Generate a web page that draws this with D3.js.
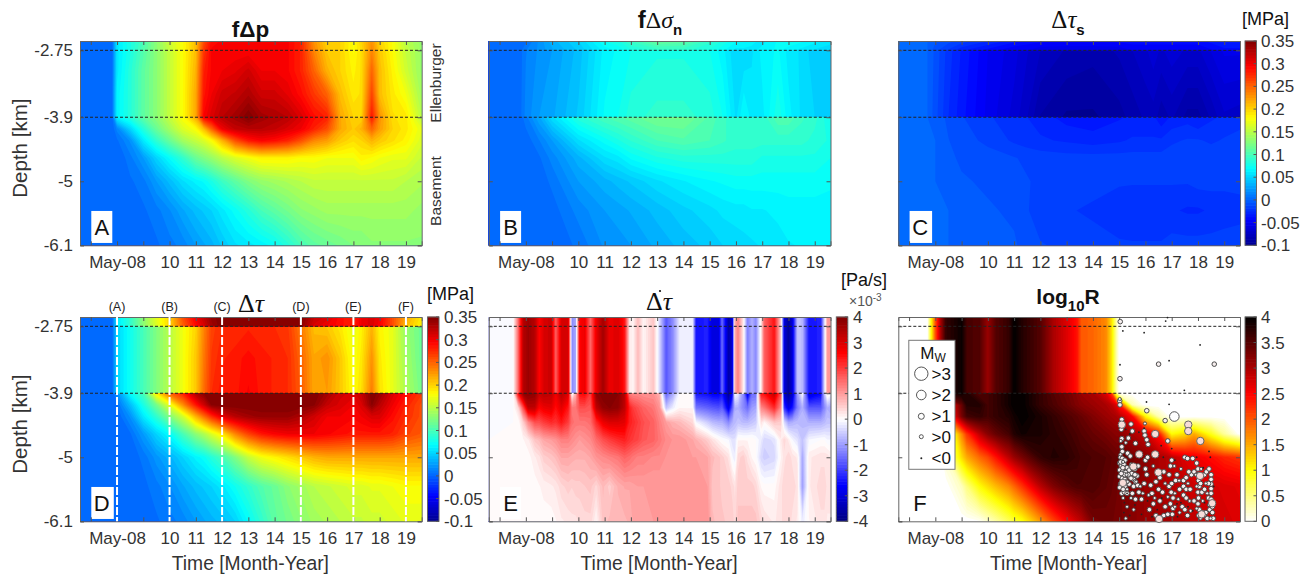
<!DOCTYPE html>
<html>
<head>
<meta charset="utf-8">
<script src="https://d3js.org/d3.v7.min.js"></script>
<title>Stress and seismicity rate panels</title>
<style>
  body { margin: 0; background: #fff; }
  svg { display: block; }
  text { font-family: "Liberation Sans", Arial, sans-serif; fill: #333; }
  .math { font-family: "Liberation Serif", serif; font-style: italic; }
</style>
</head>
<body>
<svg width="1309" height="576"></svg>
<script>
// tick labels, years written as two digits
const yearTicks = [7, 8, 9, 10, 11, 12, 13, 14, 15, 16, 17, 18, 19]
const yearLabels = ["", "May-08", "", "10", "11", "12", "13", "14", "15", "16", "17", "18", "19"]
const depthTicks = [-2.75, -3.9, -5, -6.1]
const layerDepths = [-2.75, -3.9]
const stressTicks = [-0.1, -0.05, 0, 0.05, 0.1, 0.15, 0.2, 0.25, 0.3, 0.35]
const rateTicks = [-4, -3, -2, -1, 0, 1, 2, 3, 4]
const logRTicks = [0, 0.5, 1, 1.5, 2, 2.5, 3, 3.5, 4]

// grid positions, a repeated depth is a jump between layers
const timesMain = [6.59, 7.8, 8, 8.5, 9, 9.5, 10, 10.5, 11, 11.3, 11.6, 12, 12.5, 13, 13.5, 14, 14.5, 15, 15.5, 16, 16.5, 17, 17.3, 17.7, 18, 18.5, 19, 19.6]
const timesSmooth = [6.59, 7.7, 8, 8.5, 9, 10, 11, 11.5, 12, 13, 14, 15, 15.5, 16, 16.3, 16.6, 17, 17.6, 18, 18.5, 19, 19.6]
const timesRate = [6.59, 7.52, 7.71, 7.9, 8.09, 8.34, 8.51, 8.68, 8.97, 9.14, 9.35, 9.61, 9.75, 9.9, 10.05, 10.24, 10.46, 10.68, 10.94, 11.19, 11.51, 11.76, 11.95, 12.08, 12.27, 12.48, 12.86, 13.09, 13.34, 13.59, 13.85, 14.35, 14.48, 14.92, 15.11, 15.34, 15.47, 15.72, 15.87, 15.96, 16.08, 16.28, 16.44, 16.61, 16.76, 16.96, 17.08, 17.46, 17.71, 17.84, 18, 18.15, 18.34, 18.53, 18.78, 19.23, 19.37, 19.48, 19.6]
const timesLogR = [6.59, 7.7, 7.85, 8, 8.2, 8.4, 9, 9.2, 9.7, 10, 10.3, 10.8, 11, 11.3, 12, 12.5, 13, 13.4, 13.55, 14, 14.5, 14.7, 14.9, 15, 15.5, 16, 16.5, 17, 17.5, 17.85, 18.5, 19, 19.6]
const depthsA = [-2.59, -2.75, -3.1, -3.5, -3.9, -4.1, -4.3, -4.6, -5, -5.5, -6.1]
const depthsSmooth = [-2.59, -2.75, -2.75, -3.9, -3.9, -4.3, -4.6, -5, -5.5, -6.1]
const depthsD = [-2.59, -2.75, -2.75, -3.3, -3.9, -3.9, -4.1, -4.3, -4.6, -5, -5.5, -6.1]
const depthsRate = [-2.59, -3.9, -3.9, -4.15, -4.4, -4.7, -5, -5.5, -6.1]
const depthsLogR = [-2.59, -3.9, -3.9, -4.1, -4.3, -4.6, -5, -5.5, -6.1]

const valuesA = [
  [0,0,.06,.08,.10,.13,.16,.18,.21,.26,.29,.295,.295,.295,.295,.295,.295,.28,.23,.20,.20,.18,.20,.23,.20,.18,.15,.135],
  [0,0,.06,.08,.105,.13,.155,.18,.21,.27,.295,.295,.295,.295,.295,.295,.295,.28,.235,.205,.20,.18,.195,.235,.205,.18,.155,.135],
  [0,0,.06,.085,.11,.13,.155,.18,.215,.28,.295,.30,.305,.315,.30,.30,.295,.28,.25,.215,.20,.185,.195,.25,.21,.185,.16,.135],
  [0,0,.065,.085,.11,.13,.155,.18,.22,.285,.30,.315,.32,.33,.315,.315,.305,.29,.27,.25,.21,.19,.195,.265,.21,.19,.175,.14],
  [0,0,.065,.085,.11,.13,.155,.18,.22,.295,.31,.325,.335,.35,.335,.33,.325,.31,.29,.28,.22,.20,.20,.285,.23,.195,.19,.15],
  [0,0,.015,.05,.085,.115,.14,.165,.18,.21,.25,.30,.32,.325,.325,.32,.31,.30,.28,.26,.22,.205,.215,.25,.225,.20,.19,.17],
  [0,0,.005,.02,.06,.09,.115,.14,.155,.165,.18,.215,.26,.285,.295,.29,.28,.26,.235,.225,.205,.195,.20,.215,.205,.195,.185,.165],
  [0,0,0,.01,.025,.05,.07,.09,.115,.125,.135,.15,.165,.175,.185,.185,.185,.18,.18,.175,.175,.175,.185,.18,.175,.17,.17,.155],
  [0,0,0,.005,.01,.025,.04,.055,.065,.07,.08,.095,.11,.125,.135,.14,.145,.15,.155,.155,.155,.155,.155,.155,.155,.155,.15,.145],
  [0,0,0,0,.005,.01,.018,.03,.04,.045,.05,.06,.072,.085,.10,.11,.12,.13,.135,.14,.14,.14,.14,.14,.14,.14,.14,.135],
  [0,0,0,0,0,.005,.01,.015,.025,.03,.035,.045,.055,.06,.065,.072,.085,.10,.11,.115,.12,.125,.125,.13,.13,.13,.13,.13]
]

const valuesB = [
  [0,0,.005,.02,.035,.05,.075,.08,.095,.115,.11,.09,.08,.07,.07,.065,.06,.07,.075,.07,.065,.06],
  [0,0,.012,.02,.03,.045,.065,.07,.08,.09,.09,.08,.07,.06,.06,.06,.065,.07,.065,.06,.055,.05],
  [0,0,.012,.02,.025,.04,.065,.07,.075,.08,.08,.075,.065,.05,.05,.055,.065,.07,.06,.055,.045,.045],
  [0,0,.015,.025,.03,.045,.07,.075,.085,.09,.09,.085,.075,.055,.07,.06,.06,.08,.065,.055,.05,.05],
  [0,0,.01,.03,.055,.085,.10,.105,.11,.12,.12,.105,.095,.09,.09,.09,.09,.105,.105,.095,.09,.075],
  [0,0,.002,.012,.025,.055,.072,.08,.088,.1,.105,.1,.095,.09,.09,.09,.09,.09,.09,.09,.085,.08],
  [0,0,0,.005,.015,.035,.055,.06,.07,.08,.085,.085,.085,.085,.085,.085,.08,.08,.08,.08,.08,.075],
  [0,0,0,.002,.008,.025,.035,.04,.045,.055,.062,.068,.07,.072,.072,.072,.072,.072,.072,.072,.072,.07],
  [0,0,0,0,.003,.015,.025,.028,.032,.04,.048,.054,.058,.06,.06,.062,.062,.064,.066,.066,.066,.066],
  [0,0,0,0,0,.008,.02,.022,.025,.033,.04,.046,.05,.052,.054,.055,.057,.06,.062,.063,.064,.064]
]

const valuesC = [
  [0,0,-.005,-.01,-.015,-.025,-.035,-.04,-.042,-.044,-.044,-.042,-.04,-.04,-.04,-.04,-.04,-.04,-.04,-.035,-.03,-.03],
  [0,0,-.01,-.02,-.03,-.04,-.05,-.05,-.055,-.055,-.055,-.055,-.05,-.05,-.05,-.05,-.05,-.05,-.05,-.045,-.04,-.04],
  [0,0,-.008,-.022,-.032,-.05,-.06,-.068,-.075,-.082,-.085,-.08,-.075,-.07,-.065,-.07,-.065,-.07,-.07,-.062,-.055,-.055],
  [0,0,-.01,-.025,-.035,-.052,-.065,-.075,-.088,-.095,-.095,-.09,-.085,-.08,-.078,-.085,-.08,-.09,-.09,-.08,-.07,-.072],
  [0,0,-.002,-.008,-.012,-.018,-.022,-.025,-.028,-.034,-.036,-.032,-.03,-.03,-.03,-.036,-.03,-.028,-.032,-.026,-.024,-.022],
  [0,0,0,-.006,-.01,-.014,-.02,-.022,-.024,-.026,-.028,-.026,-.024,-.024,-.024,-.024,-.02,-.018,-.018,-.02,-.018,-.016],
  [0,0,0,-.004,-.008,-.01,-.012,-.014,-.015,-.016,-.016,-.016,-.016,-.016,-.016,-.016,-.015,-.014,-.014,-.014,-.014,-.014],
  [0,0,0,-.002,-.005,-.008,-.01,-.012,-.014,-.014,-.016,-.018,-.018,-.018,-.018,-.018,-.018,-.018,-.016,-.016,-.016,-.016],
  [0,0,0,0,-.003,-.005,-.008,-.012,-.016,-.018,-.02,-.022,-.024,-.024,-.024,-.024,-.024,-.026,-.026,-.024,-.024,-.022],
  [0,0,0,0,-.001,-.003,-.005,-.01,-.012,-.014,-.016,-.018,-.018,-.018,-.018,-.018,-.016,-.016,-.016,-.016,-.014,-.014]
]

const valuesD = [
  [0,0,.06,.09,.13,.17,.20,.26,.30,.32,.34,.35,.35,.35,.35,.35,.35,.35,.32,.31,.29,.28,.30,.31,.30,.26,.22,.19],
  [0,0,.06,.09,.13,.165,.20,.25,.29,.31,.335,.35,.35,.35,.35,.35,.35,.345,.31,.30,.29,.28,.30,.31,.295,.26,.21,.185],
  [0,0,.05,.075,.10,.125,.15,.175,.20,.235,.265,.275,.275,.28,.275,.275,.27,.24,.21,.205,.19,.17,.185,.215,.185,.17,.135,.115],
  [0,0,.05,.075,.10,.125,.15,.175,.205,.24,.27,.28,.285,.29,.285,.28,.275,.25,.22,.23,.205,.175,.19,.23,.19,.17,.14,.115],
  [0,0,.05,.075,.10,.125,.15,.175,.205,.245,.275,.285,.285,.295,.285,.28,.275,.255,.22,.225,.205,.18,.195,.24,.195,.17,.145,.12],
  [0,0,.02,.07,.10,.19,.25,.28,.33,.345,.35,.35,.35,.35,.35,.35,.35,.35,.35,.335,.315,.31,.32,.35,.34,.31,.29,.27],
  [0,0,.005,.04,.08,.12,.17,.23,.285,.315,.345,.35,.35,.35,.35,.35,.35,.35,.345,.32,.31,.30,.31,.345,.325,.30,.28,.26],
  [0,0,0,.02,.06,.09,.125,.16,.215,.245,.275,.305,.325,.335,.34,.34,.34,.33,.315,.30,.30,.295,.30,.31,.31,.29,.275,.26],
  [0,0,0,.005,.025,.05,.07,.10,.13,.145,.165,.19,.235,.265,.285,.295,.30,.30,.30,.295,.29,.285,.285,.285,.285,.28,.265,.255],
  [0,0,0,.002,.008,.022,.035,.05,.065,.072,.085,.10,.125,.155,.175,.185,.195,.205,.215,.22,.22,.22,.22,.22,.22,.22,.22,.22],
  [0,0,0,0,.004,.01,.018,.03,.04,.045,.05,.06,.075,.09,.105,.115,.13,.14,.15,.155,.16,.165,.165,.17,.17,.175,.18,.18],
  [0,0,0,0,.001,.005,.01,.015,.025,.03,.035,.04,.05,.07,.09,.11,.12,.13,.14,.145,.15,.155,.155,.16,.16,.165,.17,.17]
]

// stress rate, 1e-3 Pa/s
const rateUpper = [-.1,0,1.5,3.4,3.7,3.4,2.6,3,3.2,1.6,3,3,-1.2,-.9,2.6,2.8,1.5,2.8,3.6,2.8,3,2.4,.2,.1,.7,.1,.6,-.4,-1.7,-1.2,-.2,-.2,-2.4,-2.3,-3,-3,-1.5,-3.6,-3,.8,1.3,.2,-1.3,-.8,-1.2,.2,1.6,2.4,.5,-3,-3.7,-3,-.6,-.7,-2.4,-2.3,-.4,1,1]
const valuesE = [
  rateUpper,
  rateUpper,
  [-.05,0,2.5,3.8,3.9,3.8,3.2,3.4,3.3,2.8,3.4,3,-.2,.8,2.5,2.6,2,3.8,4,4,3.9,3.4,1.3,1.2,1.2,1.1,1.1,.8,-1.6,-.9,0,0,-2.4,-2.5,-2.7,-2.7,-2.4,-3.8,-2.6,0,-.2,-1.2,-2.9,-1.5,-1.5,2.4,2.5,3.3,1.8,-3.2,-3.8,-3.2,-1,0,-3,-2.6,-.6,.3,0],
  [-.05,0,.4,1.8,3.3,3.3,2.6,2.8,2.9,2.5,2.9,2.4,1.4,1.4,1.8,1.8,1.7,3.3,3.8,3.9,3.8,3.3,2.3,2,1.8,1.6,1.4,1.1,-.6,-.2,.1,.1,-1.4,-1.6,-1.7,-1.8,-1.6,-2.9,-1.6,-.8,-.8,-1.2,-1.5,-1,-.9,1.2,1.4,2.2,1.2,-2.1,-2.9,-2.4,-1.3,-.8,-1.7,-1.7,-1.2,-.8,-.9],
  [-.02,0,0,.5,1.2,1.8,1.8,2,2.2,2.1,2.4,2,1.5,1.4,1.4,1.4,1.5,2.2,2.8,3,3,2.9,2.3,2.2,2,1.8,1.6,1.3,1,.8,.7,.4,-.1,-.5,-.7,-.8,-.8,-1.2,-.8,-.7,-.6,-.7,-.7,-.6,-.5,.3,.1,.6,.5,-.4,-.9,-.8,-.7,-.7,-.8,-.8,-.7,-.6,-.6],
  [0,0,0,.1,.2,.6,.7,.9,1,1.1,1.3,1.3,1.2,1.1,1,1.1,1.2,1.5,1.8,2,2.2,2.3,2.1,2,1.9,1.7,1.6,1.4,1.2,1.1,1.1,.9,.8,.5,.3,.1,0,-.1,-.3,-.3,.1,.1,.1,.1,0,-.2,-.4,-.3,.2,.4,.2,-.1,-.3,-.6,-.1,0,0,-.1,-.1],
  [0,0,0,0,.05,.2,.3,.5,.6,.7,.9,.9,.85,.8,.8,.8,.9,1.1,1.2,1.3,1.4,1.6,1.5,1.4,1.3,1.3,1.2,1.2,1.1,1.1,1.1,1,1,.9,.7,.6,.5,.3,-.1,-.2,.4,.5,.3,.1,0,-.4,-.5,-.4,.1,.3,.4,.3,.2,-.9,.2,.3,.3,.3,.2],
  [0,0,0,0,0,.05,.1,.15,.2,.25,.4,.5,.45,.5,.5,.55,.6,.4,.7,.5,.8,.9,.9,.95,1,1,1,1,1.1,1.1,1.1,1.1,1.1,1,.6,.6,.5,.5,.4,.3,.5,.5,.5,.5,.4,.1,.05,.05,.3,.4,.4,.4,.3,-1,.2,.4,.4,.3,.3],
  [0,0,0,0,0,0,0,.05,.05,.1,.2,.25,.3,.3,.35,.4,.4,.1,.6,.7,.7,.75,.8,.9,.9,.9,1,1,1.1,1.1,1.1,1.1,1.1,1.1,.7,.6,.6,.5,.5,.4,.6,.6,.6,.6,.6,.4,.3,.2,.3,.4,.4,.3,.2,-.2,.1,.3,.3,.2,.2]
]

const logRUpper = [0,0,1,2,3,3.7,3.95,3.6,3.5,3.1,3.5,3.7,4,3.8,3.5,3,2.7,2.4,2,1.9,1.7,1.2,.3,0,0,0,0,0,0,0,0,0,0]
const valuesF = [
  logRUpper,
  logRUpper,
  [0,0,1,2,3,3.7,3.95,3.8,3.5,3.6,3.7,3.9,4,4,3.7,3.5,3.35,3.2,3.1,3,2.7,2.2,.5,0,0,0,0,0,0,0,0,0,0],
  [0,0,0,.5,1.2,2.2,3.4,3.8,3.8,3.6,3.7,3.9,4,4,3.7,3.55,3.4,3.25,3.2,3.1,3,2.9,2.7,2.4,.3,0,0,0,0,0,0,0,0],
  [0,0,0,0,.6,1.8,3.3,3.6,3.7,3.6,3.7,3.8,3.9,4,3.85,3.7,3.55,3.45,3.4,3.25,3.1,3.05,3,2.95,2.5,1.05,.3,0,0,0,0,0,0],
  [0,0,0,0,0,.2,1.7,2.2,2.9,3.2,3.4,3.6,3.8,3.9,3.85,3.75,3.65,3.55,3.5,3.4,3.3,3.25,3.2,3.2,3,2.8,2.4,1,1.2,1.5,.9,.4,0],
  [0,0,0,0,0,.2,1.2,1.5,1.9,2.1,2.4,2.9,3.1,3.3,3.7,3.8,3.75,3.65,3.6,3.55,3.5,3.45,3.4,3.4,3.3,3.2,3,2.9,2.7,2.6,2.45,2.3,2.2],
  [0,0,0,0,0,0,.25,.5,1,1.2,1.4,1.7,1.9,2.2,2.9,3.25,3.45,3.55,3.55,3.55,3.45,3.4,3.35,3.3,3.2,3.1,3,2.9,2.85,2.8,2.75,2.7,2.65],
  [0,0,0,0,0,0,0,0,.05,.2,.35,.65,.8,.95,1.6,2.1,2.5,2.8,2.9,3.3,3.35,3.35,3.3,3.3,3.2,3.1,3.05,3,2.95,2.85,2.8,2.75,2.7]
]

// earthquakes as [year, depth], one list for each magnitude class
const quakesOver3 = [[17.1,-4.3]]
const quakesOver2 = [[16.37,-4.6],[15.76,-4.95],[16.37,-4.95],[15.14,-5.44],[18.08,-5.32],[17.63,-4.44],[17.63,-4.55],[18.09,-4.72],[15.1,-4.44],[15.54,-5.16],[16.52,-6.06],[18.54,-5.79],[18.14,-5.98],[16.49,-5.26]]
const quakesOver1 = [[15.04,-2.67],[15.03,-3.65],[16.5,-3.4],[18.62,-3.4],[15.02,-4.03],[15.03,-4.1],[16.05,-4.2],[16.75,-4.37],[16.85,-4.72],
  [15.1,-4.35],[15.45,-4.43],[15.5,-4.55],[15.08,-4.52],[15.1,-4.68],[15.35,-4.67],[15.62,-4.76],[15.1,-4.82],[15.12,-4.9],[15.32,-4.93],[15.42,-4.98],[15.05,-5.0],[15.12,-5.02],[15.22,-5.05],[15.02,-5.1],[15.08,-5.15],[15.18,-5.12],[15.3,-5.18],[15.02,-5.22],[15.12,-5.25],[15.25,-5.26],[15.38,-5.22],[15.48,-5.28],[15.6,-5.2],[15.72,-5.15],[15.02,-5.33],[15.12,-5.36],[15.22,-5.38],[15.4,-5.34],[15.55,-5.38],[15.68,-5.32],[15.05,-5.46],[15.22,-5.5],[15.38,-5.46],[15.55,-5.5],[15.7,-5.48],[15.1,-5.62],[15.2,-5.6],[15.5,-5.62],[15.75,-5.6],[15.62,-5.72],[15.85,-5.72],
  [15.06,-5.08],[15.14,-5.18],[15.2,-5.3],[15.34,-5.3],[15.45,-5.36],[15.6,-5.3],[15.5,-5.18],[15.62,-5.42],[15.08,-5.28],[15.28,-5.42],[15.02,-5.52],[15.15,-5.55],[15.3,-5.62],
  [15.95,-4.55],[15.98,-4.62],[16.05,-4.7],[16.1,-4.78],[16.0,-5.05],[16.08,-5.0],[16.0,-5.2],[16.05,-5.3],[15.95,-5.45],[16.2,-5.48],[16.4,-5.42],[16.55,-5.35],[16.7,-5.25],[16.9,-5.3],[16.95,-5.15],[17.0,-5.05],[17.2,-5.3],[17.15,-5.4],[16.5,-5.55],[16.25,-5.62],[16.65,-5.6],[16.9,-5.5],[17,-5.45],[16.98,-5.6],[17.05,-5.7],[16.95,-5.8],[17.05,-5.88],[17.02,-5.98],[16.75,-5.85],[16.55,-5.75],[16.3,-5.8],[16.15,-5.9],[16.4,-6.0],[16.7,-6.0],[16.85,-5.98],
  [17.5,-5.0],[17.6,-5.02],[17.8,-5.02],[17.95,-5.1],[17.45,-5.4],[17.55,-5.35],[17.45,-5.5],[17.55,-5.55],[17.45,-5.65],[17.55,-5.7],[17.4,-5.85],[17.5,-5.9],[17.7,-5.55],[17.75,-5.3],[17.85,-5.25],[17.65,-5.25],[17.3,-5.55],[17.85,-5.75],[17.6,-6.0],
  [18.0,-5.2],[18,-5.3],[18.02,-5.4],[18.05,-5.5],[18.0,-5.6],[18.02,-5.7],[18.0,-5.8],[18.05,-5.9],[18.03,-6.0],[18.1,-5.45],[18.15,-5.6],[18.25,-5.3],[18.32,-5.25],[18.42,-5.2],[18.25,-5.55],[18.4,-5.7],[18.45,-5.9],[18.35,-6.05],[18.5,-5.3],[18.5,-5.38],[18.5,-5.46],[18.5,-5.54],[18.5,-5.62],[18.5,-5.72],[18.55,-5.85],[18.55,-5.95],[18.58,-6.05],[18.3,-5.95],[18.15,-5.95],[18.4,-5.45]]
const quakesOver0 = [[15.02,-4.0],[15.06,-4.72],[15.25,-4.75],[15.05,-4.95],[15.15,-5.08],[15.28,-5.3],[15.45,-5.12],[15.32,-5.42],[15.65,-5.42],[15.15,-5.7],[15.3,-5.55],[15.45,-5.7],[15.8,-5.5],[15.9,-5.62],[15.3,-5.85],[15.55,-5.9],[15.25,-6.05],[15.98,-4.42],[16.3,-5.15],[16.12,-5.65],[16.35,-5.7],[16.75,-5.45],[16.85,-5.68],[17.1,-5.15],[17.28,-5.4],[17.12,-5.62],[17.25,-5.72],[17.12,-5.85],[17.3,-5.95],[17.35,-5.2],[17.62,-5.45],[17.68,-5.75],[17.72,-5.92],[17.92,-5.3],[17.95,-5.5],[17.95,-5.88],[18.12,-5.2],[18.18,-5.75],[18.3,-5.45],[18.35,-5.62],[18.42,-5.82],[18.1,-6.05],[18.25,-6.0],[18.48,-6.05]]
const quakesUnder0 = [[16.84,-2.6],[16.77,-2.66],[15.14,-2.83],[15.95,-2.86],[18.08,-3.07],[15.03,-3.41],[16.9,-3.34],[17.48,-3.85],[16.04,-4.05],[16.9,-4.09],[15.25,-4.52],[15.75,-4.57],[15.4,-4.6],[15.95,-4.5],[16.6,-4.8],[17.0,-4.85],[17.7,-4.57],[18.42,-4.9],[18.47,-5.0],[17.95,-5.0],[16.68,-5.0],[15.3,-5.62],[15.2,-5.78],[15.6,-5.82],[15.18,-5.95],[15.4,-6.0],[15.85,-5.98],[16.08,-5.75],[16.45,-5.9],[16.25,-6.02],[16.62,-5.7],[17.2,-5.8],[17.35,-5.78],[17.22,-6.02],[17.62,-5.85],[17.8,-5.92],[18.25,-5.78],[18.6,-5.5],[18.2,-5.18],[17.12,-5.05]]

const lineYears = [8, 10, 12, 15, 17, 19]
const lineNames = ["(A)", "(B)", "(C)", "(D)", "(E)", "(F)"]
const legendNames = [">3", ">2", ">1", ">0", "<0"]
const legendRadii = [6.7, 4.8, 3, 2, 1]

let svg = d3.select("svg")

// colour maps
let jet = d3.scaleLinear()
  .domain([-0.1, -0.044, 0.069, 0.181, 0.294, 0.35])
  .range(["#00008f", "#0000ff", "#00ffff", "#ffff00", "#ff0000", "#800000"])
let blueRed = d3.scaleLinear()
  .domain([-4, -2.6, 0, 2.6, 4])
  .range(["#00007f", "#0000ff", "#ffffff", "#ff0000", "#7f0000"])
let hotFlip = d3.scaleLinear()
  .domain([0, 1, 2.5, 4])
  .range(["#ffffff", "#ffff00", "#ff0000", "#000000"])

const panelW = 341.7
const panelH = 204.3

function drawField(g, x, y, times, depths, values, color, lo, hi) {
  let n = values.length, m = values[0].length
  let levels = d3.range(72).map(i => lo + (hi - lo) * i / 72)
  levels[0] = lo - 1
  // grid index to data value, contour coordinates sit half a cell off
  let col = d3.scaleLinear().domain(d3.range(m)).range(times).clamp(true)
  let row = d3.scaleLinear().domain(d3.range(n)).range(depths).clamp(true)
  let path = d3.geoPath(d3.geoTransform({
    point: function (cx, cy) {
      this.stream.point(x(col(cx - 0.5)), y(row(cy - 0.5)))
    }
  }))
  let contours = d3.contours().size([m, n]).thresholds(levels)(values.flat())
  g.append("g").selectAll("path")
    .data(contours)
    .enter().append("path")
    .attr("d", path)
    .attr("fill", d => color(d.value < lo ? lo : d.value + (hi - lo) / 144))
}

function drawPanel(left, top, times, depths, values, color, lo, hi, note, showY, showXTitle) {
  let x = d3.scaleLinear().domain([6.59, 19.6]).range([left, left + panelW])
  let y = d3.scaleLinear().domain([-6.1, -2.59]).range([top + panelH, top])
  let g = svg.append("g")
  drawField(g, x, y, times, depths, values, color, lo, hi)

  g.append("g").selectAll("line")
    .data(layerDepths)
    .enter().append("line")
    .attr("x1", left).attr("x2", left + panelW)
    .attr("y1", d => y(d)).attr("y2", d => y(d))
    .attr("stroke", "#222").attr("stroke-width", 1).attr("stroke-dasharray", "3,2")

  g.append("rect")
    .attr("x", x(7.02)).attr("y", y(-5.51))
    .attr("width", note == "C" || note == "D" ? 22.5 : 21).attr("height", 32)
    .attr("fill", "#fff")
  g.append("text").attr("x", x(7.42)).attr("y", y(-5.51) + 24)
    .attr("text-anchor", "middle").attr("font-size", 22).style("fill", "#111").text(note)

  let bottom = d3.axisBottom(x).tickValues(yearTicks).tickSize(-4).tickPadding(11)
    .tickFormat((d, i) => yearLabels[i])
  let topAxis = d3.axisTop(x).tickValues(yearTicks).tickSize(-4).tickFormat("")
  let leftAxis = d3.axisLeft(y).tickValues(depthTicks).tickSize(-4).tickPadding(7)
    .tickFormat(d => showY ? String(d) : "")
  let rightAxis = d3.axisRight(y).tickValues(depthTicks).tickSize(-4).tickFormat("")
  let axes = [
    g.append("g").attr("transform", `translate(0,${top + panelH})`).call(bottom),
    g.append("g").attr("transform", `translate(0,${top})`).call(topAxis),
    g.append("g").attr("transform", `translate(${left},0)`).call(leftAxis),
    g.append("g").attr("transform", `translate(${left + panelW},0)`).call(rightAxis)
  ]
  axes.forEach(a => {
    a.select(".domain").attr("stroke", "#666")
    a.selectAll(".tick line").attr("stroke", "#555")
    a.selectAll("text").attr("font-size", 17).style("font-family", '"Liberation Sans", Arial, sans-serif').style("fill", "#333")
  })
  if (showY) {
    g.append("text")
      .attr("transform", `translate(${left - 53},${top + panelH / 2 + 5}) rotate(-90)`)
      .attr("text-anchor", "middle").attr("font-size", 20.5).text("Depth [km]")
  }
  if (showXTitle) {
    g.append("text").attr("x", left + panelW / 2 - 0.5).attr("y", top + panelH + 49)
      .attr("text-anchor", "middle").attr("font-size", 19.3).text("Time [Month-Year]")
  }
  return { x: x, y: y, g: g }
}

function drawColorbar(left, top, width, color, lo, hi, ticks, format, textX) {
  let y = d3.scaleLinear().domain([lo, hi]).range([top + panelH, top])
  let steps = d3.range(72).map(i => lo + (hi - lo) * i / 72)
  let g = svg.append("g")
  g.selectAll("rect")
    .data(steps)
    .enter().append("rect")
    .attr("x", left).attr("width", width)
    .attr("y", d => y(d + (hi - lo) / 72) - 0.3)
    .attr("height", panelH / 72 + 0.6)
    .attr("fill", d => color(d + (hi - lo) / 144))
  g.append("rect").attr("x", left).attr("y", top).attr("width", width).attr("height", panelH)
    .attr("fill", "none").attr("stroke", "#666")
  g.selectAll("text")
    .data(ticks)
    .enter().append("text")
    .attr("x", textX).attr("y", d => y(d) + 6)
    .attr("font-size", 17).text(format)
  g.selectAll("line")
    .data(ticks)
    .enter().append("line")
    .attr("x1", left + width - 3).attr("x2", left + width)
    .attr("y1", d => y(d)).attr("y2", d => y(d))
    .attr("stroke", "#555")
}

const topRow = 41
const lowRow = 317
const colA = 80, colB = 488.8, colC = 898.3

drawPanel(colA, topRow, timesMain, depthsA, valuesA, jet, -0.1, 0.35, "A", true, false)
drawPanel(colB, topRow, timesSmooth, depthsSmooth, valuesB, jet, -0.1, 0.35, "B", false, false)
drawPanel(colC, topRow, timesSmooth, depthsSmooth, valuesC, jet, -0.1, 0.35, "C", false, false)
let panelD = drawPanel(colA, lowRow, timesMain, depthsD, valuesD, jet, -0.1, 0.35, "D", true, true)
drawPanel(colB, lowRow, timesRate, depthsRate, valuesE, blueRed, -4, 4, "E", false, true)
let panelF = drawPanel(colC, lowRow, timesLogR, depthsLogR, valuesF, hotFlip, 0, 4, "F", false, true)

drawColorbar(1245, topRow, 11.5, jet, -0.1, 0.35, stressTicks, d => String(d), 1261)
drawColorbar(427.5, lowRow, 11.5, jet, -0.1, 0.35, stressTicks, d => String(d), 444)
drawColorbar(836.3, lowRow, 11.5, blueRed, -4, 4, rateTicks, d => String(d), 853)
drawColorbar(1245, lowRow, 11.5, hotFlip, 0, 4, logRTicks, d => String(d), 1261)

// markers for the time slices on panel D
panelD.g.append("g").selectAll("line")
  .data(lineYears)
  .enter().append("line")
  .attr("x1", d => panelD.x(d)).attr("x2", d => panelD.x(d))
  .attr("y1", lowRow).attr("y2", lowRow + panelH)
  .attr("stroke", "#fff").attr("stroke-width", 2).attr("stroke-dasharray", "8,2")
panelD.g.append("g").selectAll("text")
  .data(lineYears)
  .enter().append("text")
  .attr("x", d => panelD.x(d)).attr("y", 311)
  .attr("text-anchor", "middle").attr("font-size", 12.5).style("fill", "#222")
  .text((d, i) => lineNames[i])

// earthquakes on panel F
function drawQuakes(list, r, fill, stroke) {
  panelF.g.append("g").selectAll("circle")
    .data(list)
    .enter().append("circle")
    .attr("cx", d => panelF.x(d[0])).attr("cy", d => panelF.y(d[1]))
    .attr("r", r).attr("fill", fill).attr("stroke", stroke)
    .attr("stroke-width", stroke == "none" ? 0 : 1)
}
drawQuakes(quakesOver1, 2.3, "#f6eeee", "#4a4a4a")
drawQuakes(quakesOver0, 1.6, "#eeeeee", "#4a4a4a")
drawQuakes(quakesUnder0, 0.9, "#222", "none")
drawQuakes(quakesOver2, 3.7, "#f7dcd8", "#666")
drawQuakes(quakesOver3, 4.8, "#fff", "#555")

// legend on panel F
let legend = svg.append("g")
legend.append("rect").attr("x", 908.8).attr("y", 340.3).attr("width", 46.2).attr("height", 129)
  .attr("fill", "#fff").attr("stroke", "#777")
let mw = legend.append("text").attr("x", 933).attr("y", 359).attr("text-anchor", "middle")
  .attr("font-size", 17).style("fill", "#111")
mw.append("tspan").text("M")
mw.append("tspan").attr("font-size", 12).attr("dy", 3).text("W")
const legendRows = [373.7, 395, 416.3, 436.7, 458.3]
legend.selectAll("circle")
  .data(legendRadii)
  .enter().append("circle")
  .attr("cx", 921.3).attr("cy", (d, i) => legendRows[i])
  .attr("r", d => d)
  .attr("fill", (d, i) => i == 4 ? "#222" : "#fff")
  .attr("stroke", (d, i) => i == 4 ? "none" : "#555")
legend.selectAll("text.name")
  .data(legendNames)
  .enter().append("text").attr("class", "name")
  .attr("x", 931.5).attr("y", (d, i) => legendRows[i] + 6)
  .attr("font-size", 17).style("fill", "#111").text(d => d)

// titles
function mathTitle(cx, y, size, parts) {
  let t = svg.append("text").attr("x", cx).attr("y", y).attr("text-anchor", "middle")
    .attr("font-size", size).style("fill", "#111")
  parts.forEach(p => {
    let s = t.append("tspan").text(p.text)
    if (p.serif) s.attr("class", "math").style("font-style", p.italic ? "italic" : "normal")
    if (p.bold) s.attr("font-weight", "bold")
    if (p.sub) s.attr("font-size", 15).attr("dy", 7)
    if (p.up) s.attr("dy", -7)
  })
}
mathTitle(250.5, 37, 22.5, [{ text: "f\u0394p", bold: true }])
mathTitle(660, 28, 24, [{ text: "f", bold: true }, { text: "\u0394", serif: true }, { text: "\u03c3", serif: true, italic: true }, { text: "n", bold: true, sub: true }])
mathTitle(1068, 28, 25, [{ text: "\u0394", serif: true }, { text: "\u03c4", serif: true, italic: true }, { text: "s", bold: true, sub: true }])
mathTitle(251, 312, 26, [{ text: "\u0394", serif: true }, { text: "\u03c4", serif: true, italic: true }])
mathTitle(659, 310, 26, [{ text: "\u0394", serif: true }, { text: "\u03c4", serif: true, italic: true }])
svg.append("circle").attr("cx", 660).attr("cy", 291).attr("r", 1.1).attr("fill", "#111")
mathTitle(1068, 304, 21, [{ text: "log", bold: true }, { text: "10", bold: true, sub: true }, { text: "R", bold: true, up: true }])

// side labels
svg.append("text").attr("transform", "translate(441,83) rotate(-90)").attr("text-anchor", "middle")
  .attr("font-size", 15.5).text("Ellenburger")
svg.append("text").attr("transform", "translate(441,191) rotate(-90)").attr("text-anchor", "middle")
  .attr("font-size", 15.5).text("Basement")

// units
svg.append("text").attr("x", 1242).attr("y", 25).attr("font-size", 18).style("fill", "#111").text("[MPa]")
svg.append("text").attr("x", 427).attr("y", 300).attr("font-size", 18).style("fill", "#111").text("[MPa]")
svg.append("text").attr("x", 841).attr("y", 286).attr("font-size", 18).style("fill", "#111").text("[Pa/s]")
let exp = svg.append("text").attr("x", 849).attr("y", 306).attr("font-size", 14).style("fill", "#555")
exp.append("tspan").text("\u00d710")
exp.append("tspan").attr("font-size", 10).attr("dy", -5).text("-3")
</script>
</body>
</html>
